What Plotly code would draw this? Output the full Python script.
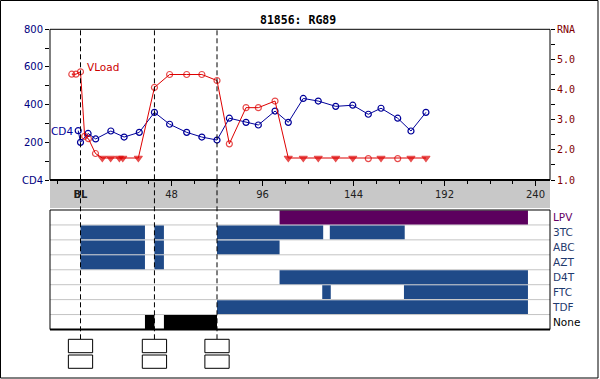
import plotly.graph_objects as go

# ---------------- data ----------------
title_text = "81856: RG89"

cd4_weeks = [-1.2, 0, 4, 8, 16, 23, 31, 39, 47, 56, 64, 72, 78.5, 87.3, 93.8,
             102.6, 109.6, 117.5, 125.4, 134.6, 143.6, 151.8, 158.5, 167.3, 174.3, 182.2]
cd4_values = [262, 200, 247, 218, 260, 228, 253, 359, 296, 253, 228, 212, 328, 306, 292,
              366, 306, 433, 419, 391, 397, 349, 381, 328, 260, 359]

vl_weeks = [-4.6, -2.4, 0, 2.2, 4.2, 7.9, 11.5, 15.9, 20.5, 22.3, 30.5, 39, 47, 56, 64, 72,
            78.5, 87.3, 93.8, 102.6, 109.6, 117.5, 125.4, 134.6, 143.6, 151.8, 158.5,
            167.3, 174.3, 182.2]
vl_values = [4.51, 4.51, 4.59, 2.45, 2.37, 1.88, 1.73, 1.73, 1.73, 1.73, 1.73, 4.07, 4.5, 4.5,
             4.5, 4.3, 2.2, 3.4, 3.4, 3.62, 1.73, 1.73, 1.73, 1.73, 1.73, 1.71, 1.73, 1.71,
             1.73, 1.73]
vl_below_limit = [False, False, False, False, False, False, True, True, True, True, True,
                  False, False, False, False, False, False, False, False, False, True, True,
                  True, True, True, False, True, False, True, True]

x_tickvals = [0, 48, 96, 144, 192, 240]
x_ticktext = ["<b>BL</b>", "48", "96", "144", "192", "240"]
cd4_tickvals = [0, 200, 400, 600, 800]
cd4_ticktext = ["CD4", "200", "400", "600", "800"]
rna_tickvals = [1, 2, 3, 4, 5, 6]
rna_ticktext = ["1.0", "2.0", "3.0", "4.0", "5.0", "RNA"]

visit_weeks = [0, 39, 72]

drugs = ["LPV", "3TC", "ABC", "AZT", "D4T", "FTC", "TDF", "None"]
seg_drug = ["LPV",
            "3TC", "3TC", "3TC", "3TC",
            "ABC", "ABC", "ABC",
            "AZT", "AZT",
            "D4T",
            "FTC", "FTC",
            "TDF",
            "None", "None"]
seg_start = [105,
             0, 39, 72, 131.5,
             0, 39, 72,
             0, 39,
             105,
             127.5, 170.6,
             72,
             34, 44]
seg_end = [236,
           34, 44, 128, 171,
           34, 44, 105,
           34, 44,
           236,
           132, 236,
           236,
           39, 72]

# ---------------- styling / layout helpers ----------------
W, H = 600, 379
def px_x(p): return p / W
def px_y(p): return 1 - p / H

main_top, main_bot = 29.3, 180
band_bot = 208
panel_top, panel_bot = 210, 329.5
left_px, right_px = 50, 550

drug_color = {"LPV": "#5c005e", "None": "#000000"}
default_bar = "#1f4a88"
label_color = {"LPV": "#660066", "None": "#000000"}
default_label = "#1f3a6e"

fig = go.Figure()

# Viral load (right axis)
fig.add_trace(go.Scatter(
    x=vl_weeks, y=vl_values, yaxis="y2", mode="lines+markers",
    line=dict(color="#dd0000", width=1),
    marker=dict(
        symbol=["triangle-down" if b else "circle-open" for b in vl_below_limit],
        size=[7 if b else 6 for b in vl_below_limit],
        color="#dd0000", line=dict(color="#dd0000", width=1.2)),
    showlegend=False, hoverinfo="skip"))

# CD4 (left axis)
fig.add_trace(go.Scatter(
    x=cd4_weeks, y=cd4_values, yaxis="y", mode="lines+markers",
    line=dict(color="#000099", width=1),
    marker=dict(symbol="circle-open", size=6, color="#000099",
                line=dict(color="#000099", width=1.2)),
    showlegend=False, hoverinfo="skip"))

# regimen bars
for d, s, e in zip(seg_drug, seg_start, seg_end):
    fig.add_trace(go.Bar(
        x=[e - s], base=[s], y=[d], orientation="h", xaxis="x", yaxis="y3",
        marker=dict(color=drug_color.get(d, default_bar), line=dict(width=0)),
        width=0.93, showlegend=False, hoverinfo="skip"))

shapes = []
# outer frame
shapes.append(dict(type="rect", xref="paper", yref="paper",
                   x0=px_x(0.5), x1=px_x(598), y0=px_y(378), y1=px_y(0.5),
                   line=dict(color="black", width=1), layer="below"))
# grey x band
shapes.append(dict(type="rect", xref="paper", yref="paper",
                   x0=px_x(left_px), x1=px_x(right_px), y0=px_y(band_bot), y1=px_y(main_bot),
                   fillcolor="#c8c8c8", line=dict(width=0), layer="below"))
# main frame
shapes.append(dict(type="rect", xref="paper", yref="paper",
                   x0=px_x(left_px), x1=px_x(right_px), y0=px_y(main_bot), y1=px_y(main_top),
                   line=dict(color="black", width=1), layer="above"))
shapes.append(dict(type="line", xref="paper", yref="paper",
                   x0=px_x(left_px), x1=px_x(right_px), y0=px_y(main_bot), y1=px_y(main_bot),
                   line=dict(color="black", width=2), layer="above"))
# row separators
for k in range(len(drugs) - 1):
    shapes.append(dict(type="line", xref="paper", yref="y3",
                       x0=px_x(left_px), x1=px_x(right_px), y0=k + 0.5, y1=k + 0.5,
                       line=dict(color="#c4c4c4", width=1), layer="below"))
# panel frame
shapes.append(dict(type="rect", xref="paper", yref="paper",
                   x0=px_x(left_px), x1=px_x(right_px), y0=px_y(panel_bot), y1=px_y(panel_top),
                   line=dict(color="black", width=1), layer="above"))
shapes.append(dict(type="line", xref="paper", yref="paper",
                   x0=px_x(left_px), x1=px_x(right_px), y0=px_y(panel_bot), y1=px_y(panel_bot),
                   line=dict(color="black", width=2), layer="above"))
# visit lines and boxes
box_half = 6.4
for w in visit_weeks:
    shapes.append(dict(type="line", xref="x", yref="paper", x0=w, x1=w,
                       y0=px_y(339.3), y1=px_y(main_top),
                       line=dict(color="black", width=1, dash="5px,3px"), layer="above"))
    for (t, b) in [(339.3, 352.7), (355, 368.3)]:
        shapes.append(dict(type="rect", xref="x", yref="paper",
                           x0=w - box_half, x1=w + box_half, y0=px_y(b), y1=px_y(t),
                           line=dict(color="black", width=1), fillcolor="white", layer="above"))

annotations = [
    dict(text="<b>" + title_text + "</b>", xref="paper", yref="paper",
         x=px_x(298), y=px_y(20), showarrow=False, xanchor="center", yanchor="middle",
         font=dict(family="DejaVu Sans Mono", size=11.5, color="black")),
    dict(text="VLoad", xref="x", yref="y2", x=2.5, y=4.74, showarrow=False,
         xanchor="left", yanchor="middle",
         font=dict(family="DejaVu Sans", size=10.5, color="#cc0000")),
    dict(text="CD4", xref="x", yref="y", x=-3.0, y=262, showarrow=False,
         xanchor="right", yanchor="middle",
         font=dict(family="DejaVu Sans", size=10.5, color="#000099")),
]

row_text = ['<span style="color:%s">%s</span>' % (label_color.get(d, default_label), d)
            for d in drugs]

x_range = [(left_px - 80.5) / 1.896, (right_px - 80.5) / 1.896]

fig.update_layout(
    width=W, height=H, autosize=False,
    margin=dict(l=0, r=0, t=0, b=0),
    paper_bgcolor="white", plot_bgcolor="white",
    showlegend=False, barmode="overlay",
    font=dict(family="DejaVu Sans", size=10, color="#202020"),
    xaxis=dict(domain=[px_x(left_px), px_x(right_px)], range=x_range, anchor="y",
               tickvals=x_tickvals, ticktext=x_ticktext, ticks="outside", ticklen=5,
               tickcolor="black", tickwidth=1,
               minor=dict(tick0=0, dtick=12, ticks="outside", ticklen=3, tickcolor="black"),
               showgrid=False, zeroline=False, showline=False, automargin=False,
               tickfont=dict(family="DejaVu Sans", size=10, color="#202020")),
    yaxis=dict(domain=[px_y(main_bot), px_y(main_top)], range=[0, 800], anchor="x",
               tickvals=cd4_tickvals, ticktext=cd4_ticktext, ticks="outside", ticklen=4,
               tickcolor="black",
               minor=dict(dtick=100, ticks="outside", ticklen=4, tickcolor="black"),
               showgrid=False, zeroline=False, showline=False, automargin=False,
               tickfont=dict(family="DejaVu Sans", size=10, color="#000080")),
    yaxis2=dict(overlaying="y", side="right", anchor="x", range=[1, 6],
                tickvals=rna_tickvals, ticktext=rna_ticktext, ticks="outside", ticklen=4,
                tickcolor="black",
                minor=dict(dtick=0.5, ticks="outside", ticklen=4, tickcolor="black"),
                showgrid=False, zeroline=False, showline=False, automargin=False,
                tickfont=dict(family="DejaVu Sans Mono", size=10, color="#800000")),
    yaxis3=dict(domain=[px_y(panel_bot), px_y(panel_top)], anchor="x", side="right",
                type="category", categoryorder="array", categoryarray=drugs,
                range=[len(drugs) - 0.5, -0.5],
                tickvals=drugs, ticktext=row_text, ticks="", ticklen=0,
                ticklabelstandoff=2,
                showgrid=False, zeroline=False, showline=False, automargin=False,
                tickfont=dict(family="DejaVu Sans", size=10.5)),
    shapes=shapes, annotations=annotations,
)

fig.write_html(
    "out.html",
    config={"displayModeBar": False},
    post_script="document.body.style.margin='0px';document.body.style.overflow='hidden';",
)
